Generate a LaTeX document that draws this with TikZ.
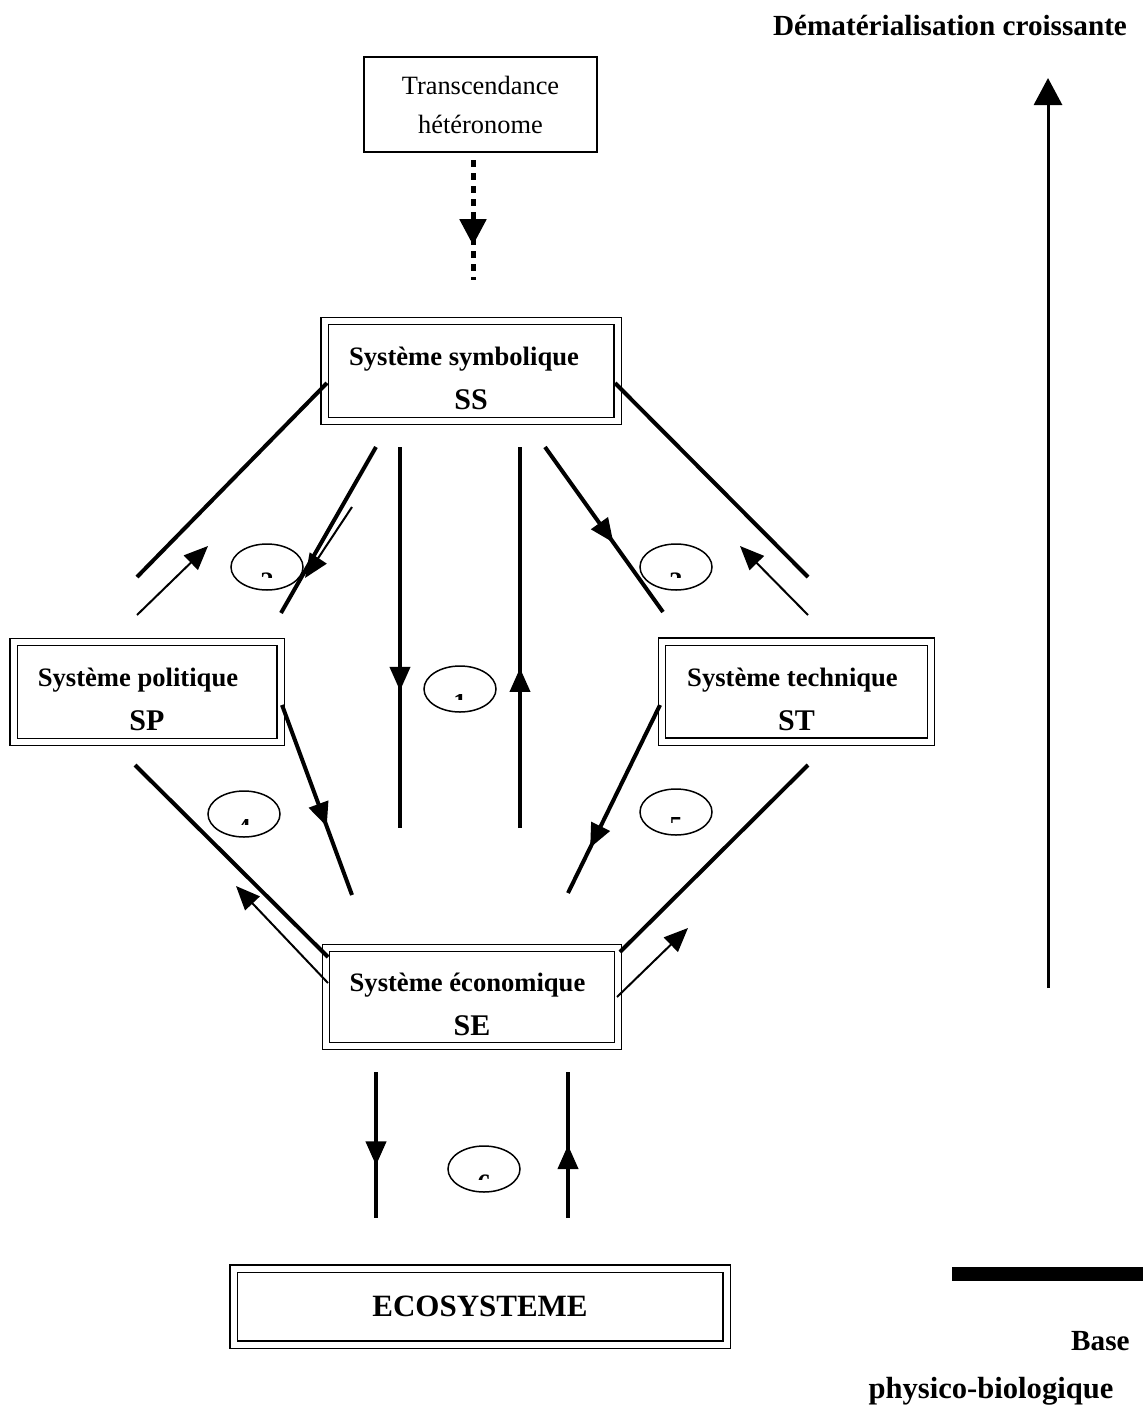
\documentclass[tikz,border=0pt]{standalone}
\usepackage{fontspec}
\setmainfont{Liberation Serif}
\usetikzlibrary{shapes.geometric,arrows.meta,decorations.markings}
\tikzstyle{systeme} = [rectangle, draw, line width=0.7pt, double, double distance=3pt,
    align=center, inner sep=0pt, font=\fontsize{13.3}{22}\selectfont\bfseries]
\tikzstyle{transc} = [rectangle, draw, line width=1pt, align=center, inner sep=0pt,
    font=\fontsize{13.2}{19.5}\selectfont]
\tikzstyle{titre} = [inner sep=0pt, font=\fontsize{14.6}{18}\selectfont\bfseries]
\tikzstyle{bulle} = [ellipse, draw, line width=0.75pt, minimum width=36pt,
    minimum height=23pt, inner sep=0pt]
\tikzstyle{chiffre} = [anchor=north, inner sep=0pt, font=\fontsize{13.3}{14}\selectfont\bfseries]
\tikzstyle{line} = [draw, line width=2pt]
\tikzstyle{fine} = [draw, line width=1pt, -{Triangle[length=12pt,width=10pt]}]
\tikzset{midtip/.style={postaction={decorate}, decoration={markings,
    mark=at position #1 with {\arrow{Triangle[length=12pt,width=10pt]}}}}}
% le numero de la bulle n'est visible qu'en partie
\newcommand{\chiffre}[2]{%
  \begin{scope}
    \clip ([xshift=-8pt,yshift=-2.5pt]#1.center) rectangle ([xshift=8pt,yshift=-5pt]#1.center);
    \node[chiffre] (#1-n) at ([yshift=-2.5pt]#1.center) {#2};
  \end{scope}}
\newcommand{\sigle}[1]{{\fontsize{15}{22}\selectfont #1}}

\begin{document}
\begin{tikzpicture}[x=0.5pt, y=-0.5pt]
 \useasboundingbox (0,0) rectangle (1143,1408);

 \node[transc, minimum width=116.5pt, minimum height=47.5pt] (trans) at (480.5,104.5) {Transcendance\\hétéronome};
 \node[systeme, minimum width=146.5pt, minimum height=50pt] (ss) at (471,371) {\rule{0pt}{17pt}Système symbolique\hspace*{7pt}\\\sigle{SS}};
 \node[systeme, minimum width=133.5pt, minimum height=50pt] (sp) at (147,692) {\rule{0pt}{17pt}Système politique\hspace*{9pt}\\\sigle{SP}};
 \node[systeme, minimum width=134.5pt, minimum height=50pt] (st) at (796.5,691.5) {\rule{0pt}{17pt}Système technique\hspace*{4pt}\\\sigle{ST}};
 \node[systeme, minimum width=146pt, minimum height=49pt] (se) at (472,997) {\rule{0pt}{17pt}Système économique\hspace*{4.5pt}\\\sigle{SE}};
 \node[systeme, minimum width=246.5pt, minimum height=38pt, font=\fontsize{15.5}{18}\selectfont\bfseries] (eco) at (480,1306.5) {ECOSYSTEME};

 \node[bulle] (b2) at (267,567) {};
 \node[bulle] (b1) at (460,689) {};
 \node[bulle] (b3) at (676,567) {};
 \node[bulle] (b4) at (244,814) {};
 \node[bulle] (b5) at (676,812) {};
 \node[bulle] (b6) at (484,1169) {};
 \chiffre{b2}{2}
 \chiffre{b1}{1}
 \chiffre{b3}{3}
 \chiffre{b4}{4}
 \chiffre{b5}{5}
 \chiffre{b6}{6}

 \node[titre, anchor=base] (demat) at (950,35) {Dématérialisation croissante};
 \node[titre, anchor=base east] (base) at (1130,1350) {Base};
 \node[titre, anchor=base, font=\fontsize{15.3}{18}\selectfont\bfseries] (physio) at (991,1398) {physico-biologique};

 % extremites des liaisons
 \coordinate (t1) at (473,160);   \coordinate (t2) at (473,280);
 \coordinate (a1) at (327,383);   \coordinate (a2) at (137,577);
 \coordinate (a3) at (137,615);   \coordinate (a4) at (208,546);
 \coordinate (a5) at (376,447);   \coordinate (a6) at (281,613);
 \coordinate (a7) at (352,507);   \coordinate (a8) at (305,578);
 \coordinate (c1) at (400,447);   \coordinate (c2) at (400,828);
 \coordinate (c3) at (520,828);   \coordinate (c4) at (520,447);
 \coordinate (d1) at (615,383);   \coordinate (d2) at (808,577);
 \coordinate (d3) at (808,615);   \coordinate (d4) at (740,546);
 \coordinate (d5) at (545,447);   \coordinate (d6) at (663,612);
 \coordinate (e1) at (135,765);   \coordinate (e2) at (328,957);
 \coordinate (e3) at (328,983);   \coordinate (e4) at (236,886);
 \coordinate (e5) at (282,705);   \coordinate (e6) at (352,895);
 \coordinate (f1) at (808,765);   \coordinate (f2) at (620,952);
 \coordinate (f3) at (617,997);   \coordinate (f4) at (688,928);
 \coordinate (f5) at (660,705);   \coordinate (f6) at (568,893);
 \coordinate (g1) at (376,1072);  \coordinate (g2) at (376,1218);
 \coordinate (g3) at (568,1218);  \coordinate (g4) at (568,1072);
 \coordinate (h1) at (1048,988);  \coordinate (h2) at (1048,78);

 \path[draw, line width=2.5pt, dash pattern=on 3.5pt off 3pt, postaction={decorate},
   decoration={markings, mark=at position 0.71 with {\arrow{Triangle[length=13pt,width=13pt]}}}] (t1) -- (t2);

 \path[line] (a1) -- (a2);
 \path[fine] (a3) -- (a4);
 \path[line] (a5) -- (a6);
 \path[fine] (a7) -- (a8);
 \path[line, midtip=0.64] (c1) -- (c2);
 \path[line, midtip=0.42] (c3) -- (c4);
 \path[line] (d1) -- (d2);
 \path[fine] (d3) -- (d4);
 \path[line, midtip=0.58] (d5) -- (d6);
 \path[line] (e1) -- (e2);
 \path[fine] (e3) -- (e4);
 \path[line, midtip=0.64] (e5) -- (e6);
 \path[line] (f1) -- (f2);
 \path[fine] (f3) -- (f4);
 \path[line, midtip=0.76] (f5) -- (f6);
 \path[line, midtip=0.64] (g1) -- (g2);
 \path[line, midtip=0.5] (g3) -- (g4);

 \path[draw, line width=1.5pt, -{Triangle[length=13.5pt,width=14pt]}] (h1) -- (h2);
 \fill (952,1267) rectangle (1143,1281);
\end{tikzpicture}
\end{document}
